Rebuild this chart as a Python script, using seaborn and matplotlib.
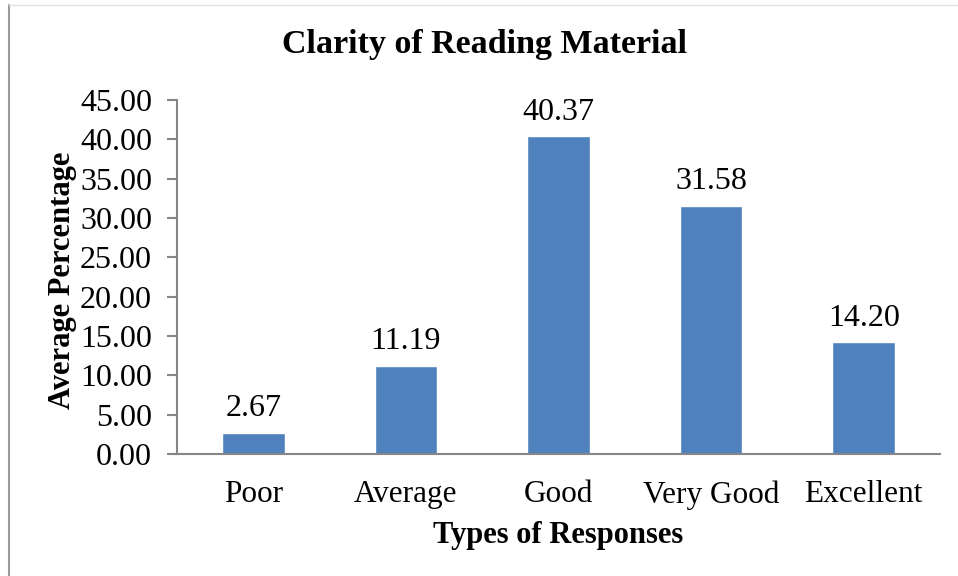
import matplotlib
matplotlib.use("Agg")
import matplotlib.pyplot as plt
import seaborn as sns
import pandas as pd
from matplotlib.lines import Line2D

categories = ["Poor", "Average", "Good", "Very Good", "Excellent"]
values = [2.67, 11.19, 40.37, 31.58, 14.20]
yticks = [0, 5, 10, 15, 20, 25, 30, 35, 40, 45]

sns.set_style("white")
plt.rcParams["font.family"] = ["Liberation Serif", "DejaVu Serif"]
plt.rcParams["text.color"] = "black"
plt.rcParams["axes.labelcolor"] = "black"
plt.rcParams["xtick.color"] = "black"
plt.rcParams["ytick.color"] = "black"

df = pd.DataFrame({"Response": categories, "Value": values})

fig = plt.figure(figsize=(9.58, 5.76), dpi=100)
ax = fig.add_axes([177 / 958, 1 - 454 / 576, (940 - 177) / 958, (454 - 100) / 576])

sns.barplot(data=df, x="Response", y="Value", color="#4F81BD", saturation=1,
            width=0.41, ax=ax)

ax.set_ylim(0, 45)
ax.set_xlim(-0.5, 4.5)
ax.set_yticks(yticks)
ax.set_yticklabels([f"{t:.2f}" for t in yticks])
ax.tick_params(axis="y", length=7, width=1.5, color="#868686", labelcolor="black",
               labelsize=23, pad=11, left=True)
ax.tick_params(axis="x", length=0, labelsize=22.5, labelcolor="black", pad=19)

for s in ["top", "right"]:
    ax.spines[s].set_visible(False)
for s in ["left", "bottom"]:
    ax.spines[s].set_color("#868686")
    ax.spines[s].set_linewidth(1.5)

ax.bar_label(ax.containers[0], labels=[f"{v:.2f}" for v in values], padding=7,
             fontsize=23, color="black")

ax.set_xlabel("Types of Responses", fontsize=22, fontweight="bold", labelpad=8)
ax.set_ylabel("Average Percentage", fontsize=22, fontweight="bold")
ax.yaxis.set_label_coords(-100 / 763, 0.49)
fig.text(485 / 958, 1 - 45 / 576, "Clarity of Reading Material", ha="center", va="center",
         fontsize=24.5, fontweight="bold")

# outer frame lines
fig.add_artist(Line2D([9 / 958, 9 / 958], [0, 1 - 5 / 576], color="#9a9a9a", lw=1.5))
fig.add_artist(Line2D([9 / 958, 1], [1 - 5 / 576, 1 - 5 / 576], color="#e0e0e0", lw=1))

fig.savefig("out.png", dpi=100)
